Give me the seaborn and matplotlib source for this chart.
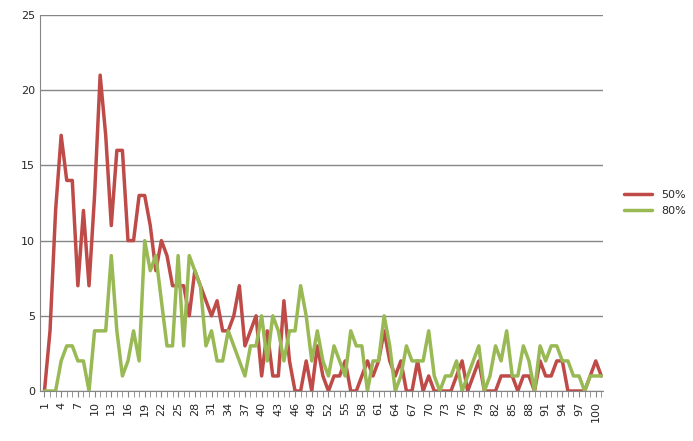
import numpy as np
import pandas as pd
import seaborn as sns
import matplotlib.pyplot as plt

# Series values (index 1..101)
s50 = [0, 4, 12, 17, 14, 14, 7, 12, 7, 13, 21, 17, 11, 16, 16, 10, 10, 13, 13, 11,
       8, 10, 9, 7, 7, 7, 5, 8, 7, 6, 5, 6, 4, 4, 5, 7, 3, 4, 5, 1,
       4, 1, 1, 6, 2, 0, 0, 2, 0, 3, 1, 0, 1, 1, 2, 0, 0, 1, 2, 1,
       2, 4, 2, 1, 2, 0, 0, 2, 0, 1, 0, 0, 0, 0, 1, 2, 0, 1, 2, 0,
       0, 0, 1, 1, 1, 0, 1, 1, 0, 2, 1, 1, 2, 2, 0, 0, 0, 0, 1, 2, 1]
s80 = [0, 0, 0, 2, 3, 3, 2, 2, 0, 4, 4, 4, 9, 4, 1, 2, 4, 2, 10, 8,
       9, 6, 3, 3, 9, 3, 9, 8, 7, 3, 4, 2, 2, 4, 3, 2, 1, 3, 3, 5,
       2, 5, 4, 2, 4, 4, 7, 5, 2, 4, 2, 1, 3, 2, 1, 4, 3, 3, 0, 2,
       2, 5, 3, 0, 1, 3, 2, 2, 2, 4, 1, 0, 1, 1, 2, 0, 1, 2, 3, 0,
       1, 3, 2, 4, 1, 1, 3, 2, 0, 3, 2, 3, 3, 2, 2, 1, 1, 0, 1, 1, 1]
x = np.arange(1, len(s50) + 1)

df = pd.DataFrame({'x': np.concatenate([x, x]),
                   'value': s50 + s80,
                   'series': ['50%'] * len(s50) + ['80%'] * len(s80)})

sns.set_style('white')
fig = plt.figure(figsize=(6.93, 4.41), dpi=100)
ax = fig.add_axes([40 / 693, 1 - 391 / 441, 563 / 693, 376 / 441])

sns.lineplot(data=df, x='x', y='value', hue='series',
             palette={'50%': '#BE4B48', '80%': '#98B954'}, linewidth=2.5, ax=ax)

ax.set_xlim(0.2, len(s50) + 0.3)
ax.set_ylim(0, 25)
ax.set_yticks(range(0, 26, 5))
ax.yaxis.grid(True, color='#868686', linewidth=1)
ax.set_xticks(x[::3])
ax.set_xticklabels([str(v) for v in x[::3]], rotation=90, fontsize=8)
ax.set_xticks(x, minor=True)
ax.tick_params(axis='x', which='both', direction='out', length=4, color='#868686', bottom=True)
ax.tick_params(axis='y', labelsize=8, length=0)
ax.set_xlabel('')
ax.set_ylabel('')
for side in ['top', 'right']:
    ax.spines[side].set_visible(False)
for side in ['left', 'bottom']:
    ax.spines[side].set_color('#868686')

ax.legend(loc='center left', bbox_to_anchor=(1.02, 0.5), frameon=False,
          fontsize=8, handlelength=2.5)

fig.savefig('out.png', dpi=100)
